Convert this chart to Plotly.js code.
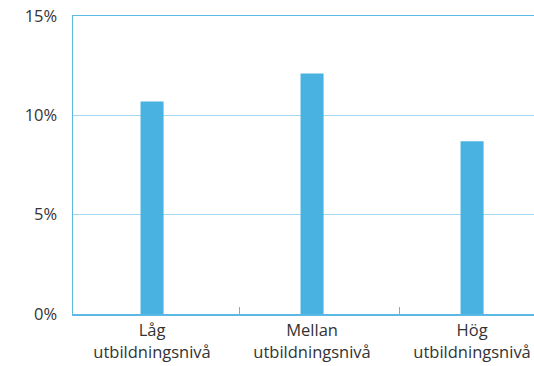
<!DOCTYPE html>
<html>
<head>
<meta charset="utf-8">
<script src="https://cdn.plot.ly/plotly-3.0.1.min.js"></script>
<style>
  html, body { margin: 0; padding: 0; background: #ffffff; }
  #chart { width: 534px; height: 366px; }
</style>
</head>
<body>
<div id="chart"></div>
<script>
// Andel per utbildningsnivå (procent)
const categories = ["Låg<br>utbildningsnivå", "Mellan<br>utbildningsnivå", "Hög<br>utbildningsnivå"];
const values = [10.7, 12.1, 8.7];
const yTicks = [0, 5, 10, 15];
const yTickLabels = ["0%", "5%", "10%", "15%"];

const positions = categories.map((_, i) => i);
// small separator ticks between the category groups
const separators = positions.slice(1).map(p => p - 0.456);

const barColor = "#4ab2e0";
const lineColor = "#5cb9e6";
const gridColor = "#a3d6ef";
const textColor = "#333333";

const trace = {
  type: "bar",
  x: positions,
  y: values,
  width: 0.144,
  marker: { color: barColor, line: { width: 0 } },
  hoverinfo: "skip"
};

const layout = {
  width: 534,
  height: 366,
  margin: { l: 73, r: 0, t: 16, b: 52, pad: 0 },
  paper_bgcolor: "#ffffff",
  plot_bgcolor: "#ffffff",
  showlegend: false,
  font: { family: "'Open Sans', 'Noto Sans', sans-serif", size: 16, color: textColor },
  xaxis: {
    range: [-0.494, 2.387],
    tickmode: "array",
    tickvals: positions,
    ticktext: categories,
    ticks: "",
    ticklabelstandoff: 1,
    ticklabeloverflow: "allow",
    showgrid: false,
    zeroline: false,
    showline: true,
    mirror: true,
    linecolor: lineColor,
    linewidth: 1.5,
    tickfont: { size: 16.5, color: textColor },
    minor: {
      tickmode: "array",
      tickvals: separators,
      ticks: "inside",
      ticklen: 7,
      tickwidth: 1,
      tickcolor: lineColor,
      showgrid: false
    },
    fixedrange: true
  },
  yaxis: {
    range: [0, 15],
    tickmode: "array",
    tickvals: yTicks,
    ticktext: yTickLabels,
    ticks: "",
    ticklabelstandoff: 11,
    showgrid: true,
    gridcolor: gridColor,
    gridwidth: 1.5,
    zeroline: false,
    showline: true,
    linecolor: lineColor,
    linewidth: 1.5,
    tickfont: { size: 16.5, color: textColor },
    fixedrange: true
  }
};

Plotly.newPlot("chart", [trace], layout, { displayModeBar: false, staticPlot: true });
</script>
</body>
</html>
